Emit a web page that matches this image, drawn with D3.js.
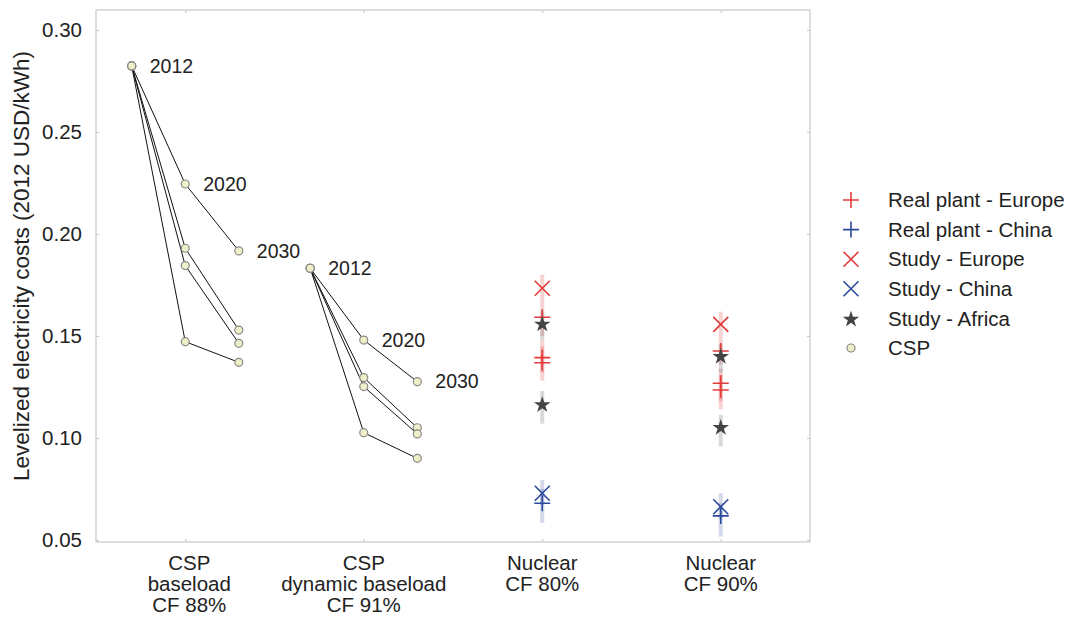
<!DOCTYPE html>
<html><head><meta charset="utf-8">
<script src="https://cdn.jsdelivr.net/npm/d3@7"></script>
<style>body{margin:0;background:#fff}svg{display:block}text{font-family:"Liberation Sans",Arial,sans-serif;fill:#222}</style>
</head><body>
<svg id="c" width="1071" height="617"></svg>
<script>
// ---- data ----
const categories = [["CSP","baseload","CF 88%"],["CSP","dynamic baseload","CF 91%"],["Nuclear","CF 80%"],["Nuclear","CF 90%"]];
const yTicks = [0.05,0.10,0.15,0.20,0.25,0.30];
const years = ["2012","2020","2030"];
// CSP paths: [2012, 2020, 2030]
const cspBaseload = [[0.2824,0.2245,0.1917],[0.2824,0.1930,0.1529],[0.2824,0.1845,0.1464],[0.2824,0.1472,0.1371]];
const cspDynamic = [[0.1832,0.1480,0.1276],[0.1832,0.1296,0.1050],[0.1832,0.1252,0.1020],[0.1832,0.1026,0.0900]];
// nuclear markers: [category index, value, low, high]
const realEurope = [[3,0.1592,0.150,0.166],[3,0.1394,0.132,0.148],[3,0.1369,0.128,0.145],[4,0.1426,0.136,0.150],[4,0.1268,0.118,0.134],[4,0.1235,0.114,0.131]];
const realChina = [[3,0.0680,0.0584,0.075],[4,0.0618,0.0516,0.068]];
const studyEurope = [[3,0.1734,0.166,0.180],[4,0.1557,0.150,0.1619]];
const studyChina = [[3,0.0729,0.067,0.0794],[4,0.0663,0.060,0.0730]];
const studyAfrica = [[3,0.1562,0.148,0.162],[3,0.1167,0.107,0.123],[4,0.1403,0.132,0.146],[4,0.1055,0.0958,0.1113]];
const legendLabels = ["Real plant - Europe","Real plant - China","Study - Europe","Study - China","Study - Africa","CSP"];

// ---- layout ----
const svg = d3.select("#c");
const x = d3.scaleLinear().domain([0.5,4.5]).range([96,810]);
const y = d3.scaleLinear().domain([0.049,0.3098]).range([542,10]);
const RED="#e23b3b", BLUE="#2c4a9c", DARK="#444444";
const FS = "20.5px";

// frame
svg.append("rect").attr("x",x(0.5)).attr("y",y(0.3098)).attr("width",x(4.5)-x(0.5)).attr("height",y(0.049)-y(0.3098))
  .attr("fill","none").attr("stroke","#c8c8c8").attr("stroke-width",1.2);

// y axis
const ya = svg.append("g").attr("transform",`translate(${x(0.5)},0)`)
  .call(d3.axisLeft(y).tickValues(yTicks).tickFormat(d3.format(".2f")).tickSizeInner(-3).tickSizeOuter(0).tickPadding(14));
ya.select(".domain").remove();
ya.selectAll("line").attr("stroke","#c8c8c8");
ya.selectAll("text").style("font-size",FS).attr("fill","#222");
// right ticks
const yr = svg.append("g").attr("transform",`translate(${x(4.5)},0)`)
  .call(d3.axisRight(y).tickValues(yTicks).tickFormat("").tickSizeInner(-3).tickSizeOuter(0));
yr.select(".domain").remove(); yr.selectAll("line").attr("stroke","#c8c8c8");

// x axis ticks
const xa = svg.append("g").attr("transform",`translate(0,${y(0.049)})`)
  .call(d3.axisBottom(x).tickValues([1,2,3,4]).tickFormat("").tickSizeInner(-3).tickSizeOuter(0));
xa.select(".domain").remove(); xa.selectAll("line").attr("stroke","#c8c8c8");
const xt = svg.append("g").attr("transform",`translate(0,${y(0.3098)})`)
  .call(d3.axisTop(x).tickValues([1,2,3,4]).tickFormat("").tickSizeInner(-3).tickSizeOuter(0));
xt.select(".domain").remove(); xt.selectAll("line").attr("stroke","#c8c8c8");

// category labels
categories.forEach((lines,i)=>{
  const t = svg.append("text").attr("text-anchor","middle").style("font-size",FS);
  lines.forEach((l,j)=>t.append("tspan").attr("x",x(i+1)+(i===0?4:0)).attr("y",570+j*21).text(l));
});

// y title
svg.append("text").attr("transform",`translate(29,266) rotate(-90)`)
  .attr("text-anchor","middle").style("font-size","22.5px").text("Levelized electricity costs (2012 USD/kWh)");

// CSP lines & points
const offs=[-0.3,0,0.3];
function drawCSP(data,cat){
  const g = svg.append("g");
  const line = d3.line().x((d,i)=>x(cat+offs[i])).y(d=>y(d));
  data.forEach(p=>g.append("path").attr("d",line(p)).attr("fill","none").attr("stroke","#111").attr("stroke-width",1));
  data.forEach(p=>p.forEach((v,i)=>g.append("circle").attr("cx",x(cat+offs[i])).attr("cy",y(v)).attr("r",4)
     .attr("fill","#eeeec8").attr("stroke","#888").attr("stroke-width",1.2)));
  years.forEach((yr,i)=>{
    const top = d3.max(data,p=>p[i]);
    svg.append("text").attr("x",x(cat+offs[i])+18).attr("y",y(top)).attr("dy","0.35em").style("font-size","19.5px").text(yr);
  });
}
drawCSP(cspBaseload,1);
drawCSP(cspDynamic,2);

// error bars
const errG = svg.append("g");
function errs(data,color,op){
  data.forEach(d=>errG.append("line").attr("x1",x(d[0])).attr("x2",x(d[0])).attr("y1",y(d[2])).attr("y2",y(d[3]))
    .attr("stroke",color).attr("stroke-width",4).attr("opacity",op));
}
errs(studyEurope,RED,0.22); errs(realEurope,RED,0.22);
errs(studyAfrica,DARK,0.2);
errs(studyChina,BLUE,0.2); errs(realChina,BLUE,0.2);

// marker shapes
function plus(g,cx,cy,c){g.append("path").attr("d",`M${cx-8},${cy}H${cx+8}M${cx},${cy-8}V${cy+8}`).attr("stroke",c).attr("stroke-width",1.6).attr("fill","none");}
function cross(g,cx,cy,c){const s=7.5;g.append("path").attr("d",`M${cx-s},${cy-s}L${cx+s},${cy+s}M${cx-s},${cy+s}L${cx+s},${cy-s}`).attr("stroke",c).attr("stroke-width",1.6).attr("fill","none");}
const starPath = d3.symbol().type(d3.symbolStar).size(85)();
function star(g,cx,cy,c){g.append("path").attr("d",starPath).attr("transform",`translate(${cx},${cy+1})`).attr("fill",c);}
function circ(g,cx,cy){g.append("circle").attr("cx",cx).attr("cy",cy).attr("r",4).attr("fill","#eeeec8").attr("stroke","#888").attr("stroke-width",1.2);}

const mg = svg.append("g");
studyEurope.forEach(d=>cross(mg,x(d[0]),y(d[1]),RED));
realEurope.forEach(d=>plus(mg,x(d[0]),y(d[1]),RED));
studyChina.forEach(d=>cross(mg,x(d[0]),y(d[1]),BLUE));
realChina.forEach(d=>plus(mg,x(d[0]),y(d[1]),BLUE));
studyAfrica.forEach(d=>star(mg,x(d[0]),y(d[1]),DARK));

// legend
const lg = svg.append("g");
const drawers=[(g,a,b)=>plus(g,a,b,RED),(g,a,b)=>plus(g,a,b,BLUE),(g,a,b)=>cross(g,a,b,RED),(g,a,b)=>cross(g,a,b,BLUE),(g,a,b)=>star(g,a,b,DARK),(g,a,b)=>circ(g,a,b)];
legendLabels.forEach((l,i)=>{
  const yy = 200+i*29.6;
  drawers[i](lg,851,yy);
  lg.append("text").attr("x",888).attr("y",yy).attr("dy","0.35em").style("font-size",FS).text(l);
});
</script>
</body></html>
